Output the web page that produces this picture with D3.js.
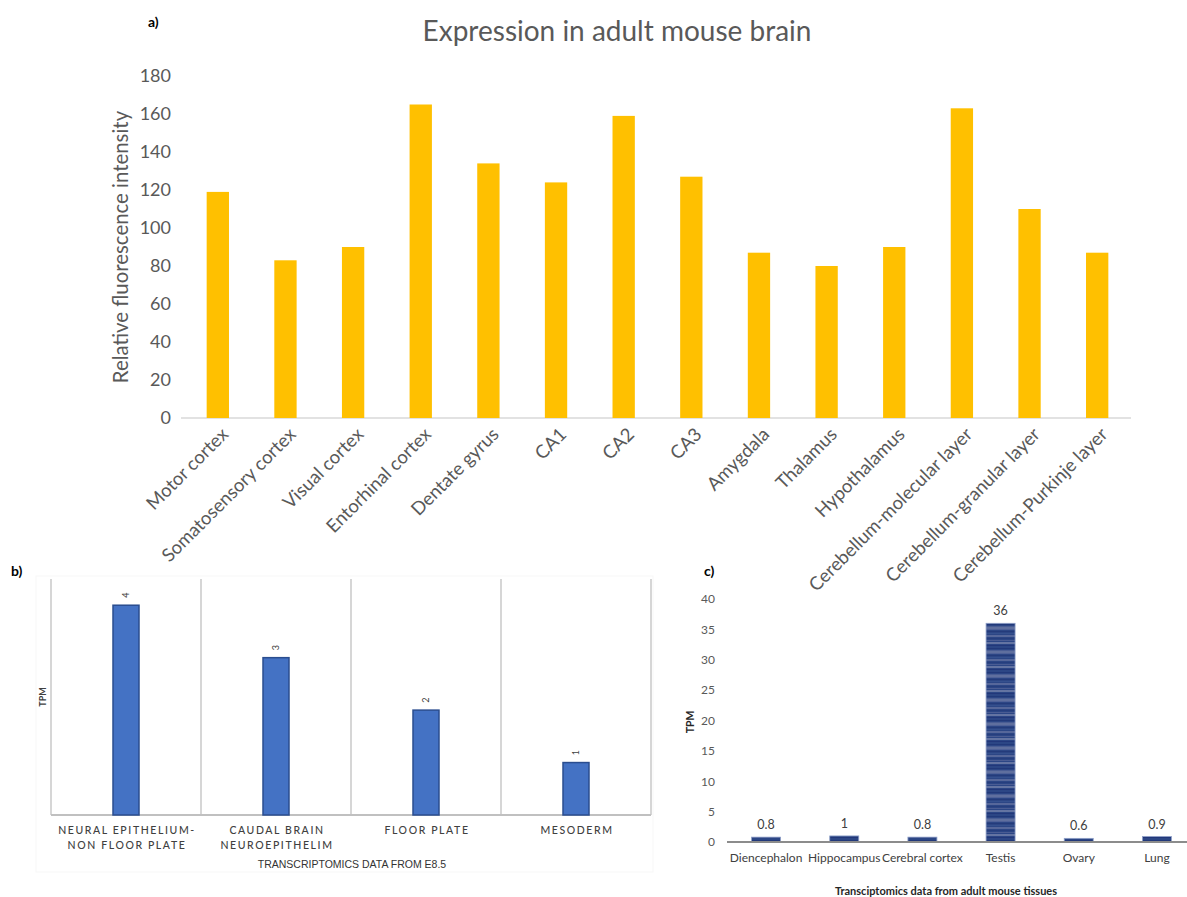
<!DOCTYPE html>
<html>
<head>
<meta charset="utf-8">
<script src="https://cdn.jsdelivr.net/npm/d3@7"></script>
<style>
  html, body { margin: 0; padding: 0; background: #fff; }
  svg { display: block; }
  text { font-family: Lato, "Open Sans", "Liberation Sans", sans-serif; }
</style>
</head>
<body>
<svg id="fig" width="1187" height="897"></svg>
<script>
// Panel a: relative fluorescence in adult mouse brain regions
const brainRegions = ["Motor cortex", "Somatosensory cortex", "Visual cortex", "Entorhinal cortex",
  "Dentate gyrus", "CA1", "CA2", "CA3", "Amygdala", "Thalamus", "Hypothalamus",
  "Cerebellum-molecular layer", "Cerebellum-granular layer", "Cerebellum-Purkinje layer"];
const fluorescence = [119, 83, 90, 165, 134, 124, 159, 127, 87, 80, 90, 163, 110, 87];
const fluorescenceTicks = [0, 20, 40, 60, 80, 100, 120, 140, 160, 180];

// Panel b: E8.5 transcriptomics
const e85Tissues = [["NEURAL EPITHELIUM-", "NON FLOOR PLATE"], ["CAUDAL BRAIN", "NEUROEPITHELIM"],
  ["FLOOR PLATE"], ["MESODERM"]];
const e85Tpm = [4, 3, 2, 1];

// Panel c: adult mouse tissues
const adultTissues = ["Diencephalon", "Hippocampus", "Cerebral cortex", "Testis", "Ovary", "Lung"];
const adultTpm = [0.8, 1, 0.8, 36, 0.6, 0.9];
const adultTicks = [0, 5, 10, 15, 20, 25, 30, 35, 40];

const svg = d3.select("#fig");

// ---------- panel a ----------
const gA = svg.append("g");
const xA = d3.scaleBand().domain(brainRegions).range([184, 1131]);
const yA = d3.scaleLinear().domain([0, 180]).range([418, 76]);

gA.append("text").attr("x", 148).attr("y", 27).text("a)")
  .attr("font-size", 14).attr("font-weight", 700).attr("fill", "#000");

gA.append("text").attr("x", 617).attr("y", 41).attr("text-anchor", "middle")
  .attr("font-size", 28).attr("fill", "#595959").text("Expression in adult mouse brain");

gA.append("text").attr("transform", "translate(128,247) rotate(-90)")
  .attr("text-anchor", "middle").attr("font-size", 20.4).attr("fill", "#595959")
  .text("Relative fluorescence intensity");

const axA = gA.append("g").attr("transform", "translate(171,0)")
  .call(d3.axisLeft(yA).tickValues(fluorescenceTicks).tickSize(0).tickPadding(0));
axA.select(".domain").remove();
axA.selectAll("text").attr("font-size", 18).attr("fill", "#595959")
  .style("font-family", "Lato, 'Open Sans', sans-serif");

gA.append("line").attr("x1", 181).attr("x2", 1131).attr("y1", yA(0)).attr("y2", yA(0))
  .attr("stroke", "#d9d9d9").attr("stroke-width", 1.5);

const barWA = xA.bandwidth() * 0.33;
gA.selectAll("rect.a").data(brainRegions).join("rect").attr("class", "a")
  .attr("x", d => xA(d) + xA.bandwidth() / 2 - barWA / 2)
  .attr("y", (d, i) => yA(fluorescence[i]))
  .attr("width", barWA)
  .attr("height", (d, i) => yA(0) - yA(fluorescence[i]))
  .attr("fill", "#FFC000");

gA.selectAll("text.xa").data(brainRegions).join("text").attr("class", "xa")
  .attr("transform", d => `translate(${xA(d) + xA.bandwidth() / 2 + 7},${431}) rotate(-45)`)
  .attr("text-anchor", "end").attr("dy", "0.35em")
  .attr("font-size", 18.5).attr("fill", "#595959").text(d => d);

// ---------- panel b ----------
const gB = svg.append("g");
const bLabels = e85Tissues.map(d => d.join(" "));
const xB = d3.scaleBand().domain(bLabels).range([51, 651]);
const yB = d3.scaleLinear().domain([0, 4.5]).range([815, 579]);

gB.append("rect").attr("x", 36).attr("y", 576).attr("width", 617).attr("height", 296)
  .attr("fill", "none").attr("stroke", "#f7f7f7").attr("stroke-width", 1);

gB.append("text").attr("x", 11).attr("y", 576).text("b)")
  .attr("font-size", 14).attr("font-weight", 700).attr("fill", "#000");

// vertical separators between categories
const seps = bLabels.map(d => xB(d)).concat([xB.range()[1]]);
gB.selectAll("line.sep").data(seps).join("line").attr("class", "sep")
  .attr("x1", d => d).attr("x2", d => d).attr("y1", yB(4.5)).attr("y2", yB(0))
  .attr("stroke", "#c8c8c8").attr("stroke-width", 1.5);
gB.append("line").attr("x1", 51).attr("x2", 651).attr("y1", yB(0)).attr("y2", yB(0))
  .attr("stroke", "#c0c0c0").attr("stroke-width", 2);

const barWB = 26;
gB.selectAll("rect.b").data(bLabels).join("rect").attr("class", "b")
  .attr("x", d => xB(d) + xB.bandwidth() / 2 - barWB / 2)
  .attr("y", (d, i) => yB(e85Tpm[i]))
  .attr("width", barWB)
  .attr("height", (d, i) => yB(0) - yB(e85Tpm[i]))
  .attr("fill", "#4472C4").attr("stroke", "#2A4D8F").attr("stroke-width", 1.5);

gB.selectAll("text.vb").data(bLabels).join("text").attr("class", "vb")
  .attr("transform", (d, i) => `translate(${xB(d) + xB.bandwidth() / 2},${yB(e85Tpm[i]) - 10}) rotate(-90)`)
  .attr("text-anchor", "middle").attr("dy", "0.35em")
  .attr("font-size", 9).attr("fill", "#404040").text((d, i) => e85Tpm[i]);

e85Tissues.forEach((lines, i) => {
  const t = gB.append("text").attr("text-anchor", "middle")
    .attr("font-size", 10.5).attr("font-weight", 500).attr("fill", "#404040").attr("letter-spacing", 1.6);
  lines.forEach((ln, j) => {
    t.append("tspan").attr("x", xB(bLabels[i]) + xB.bandwidth() / 2 + 1)
      .attr("y", 834 + j * 15).text(ln);
  });
});

gB.append("text").attr("x", 352).attr("y", 868).attr("text-anchor", "middle")
  .attr("font-size", 10.5).attr("fill", "#333")
  .style("font-family", "'Liberation Sans Narrow', 'Liberation Sans', sans-serif")
  .text("TRANSCRIPTOMICS DATA FROM E8.5");

gB.append("text").attr("transform", "translate(46,697) rotate(-90)")
  .attr("text-anchor", "middle").attr("font-size", 9).attr("font-weight", 700)
  .attr("fill", "#404040").text("TPM");

// ---------- panel c ----------
const gC = svg.append("g");
const xC = d3.scaleBand().domain(adultTissues).range([727, 1196]);
const yC = d3.scaleLinear().domain([0, 40]).range([842, 599]);

// striped fill for the bars
const defs = svg.append("defs");
const pat = defs.append("pattern").attr("id", "stripes").attr("patternUnits", "userSpaceOnUse")
  .attr("width", 40).attr("height", 24);
pat.append("rect").attr("width", 40).attr("height", 24).attr("fill", "#2C4685");
const stripeRows = [
  [0, 1, "#22397A"], [2, 1, "#4A5D94"], [3, 2, "#5F6F9E"], [5, 1, "#4F6198"],
  [7, 1, "#243B7B"], [9, 1, "#35508E"], [11, 2, "#56679A"], [14, 1, "#263E7E"],
  [16, 1, "#4A5C93"], [18, 2, "#6474A2"], [21, 1, "#22377A"]
];
stripeRows.forEach(([y, h, c]) => pat.append("rect").attr("y", y).attr("width", 40).attr("height", h).attr("fill", c));

gC.append("text").attr("x", 704).attr("y", 576).text("c)")
  .attr("font-size", 14).attr("font-weight", 700).attr("fill", "#000");

const axC = gC.append("g").attr("transform", "translate(715,0)")
  .call(d3.axisLeft(yC).tickValues(adultTicks).tickSize(0).tickPadding(0));
axC.select(".domain").remove();
axC.selectAll("text").attr("font-size", 12).attr("fill", "#595959")
  .style("font-family", "Lato, 'Open Sans', sans-serif");

gC.append("text").attr("transform", "translate(694,722) rotate(-90)")
  .attr("text-anchor", "middle").attr("font-size", 10.5).attr("font-weight", 700)
  .attr("fill", "#262626").text("TPM");

const barWC = 29;
gC.selectAll("rect.c").data(adultTissues).join("rect").attr("class", "c")
  .attr("x", d => xC(d) + xC.bandwidth() / 2 - barWC / 2)
  .attr("y", (d, i) => yC(adultTpm[i]))
  .attr("width", barWC)
  .attr("height", (d, i) => yC(0) - yC(adultTpm[i]))
  .attr("fill", "url(#stripes)").attr("stroke", "#8FA0C8").attr("stroke-width", 0.8);

gC.append("line").attr("x1", 727).attr("x2", 1187).attr("y1", yC(0)).attr("y2", yC(0))
  .attr("stroke", "#8c8c8c").attr("stroke-width", 2);

gC.selectAll("text.vc").data(adultTissues).join("text").attr("class", "vc")
  .attr("x", d => xC(d) + xC.bandwidth() / 2)
  .attr("y", (d, i) => yC(adultTpm[i]) - 8)
  .attr("text-anchor", "middle").attr("font-size", 12.5).attr("fill", "#404040")
  .text((d, i) => adultTpm[i]);

gC.selectAll("text.xc").data(adultTissues).join("text").attr("class", "xc")
  .attr("x", d => xC(d) + xC.bandwidth() / 2).attr("y", 862)
  .attr("text-anchor", "middle").attr("font-size", 12).attr("fill", "#404040")
  .text(d => d);

gC.append("text").attr("x", 946).attr("y", 895).attr("text-anchor", "middle")
  .attr("font-size", 11).attr("font-weight", 700).attr("fill", "#262626")
  .text("Transciptomics data from adult mouse tissues");
</script>
</body>
</html>
